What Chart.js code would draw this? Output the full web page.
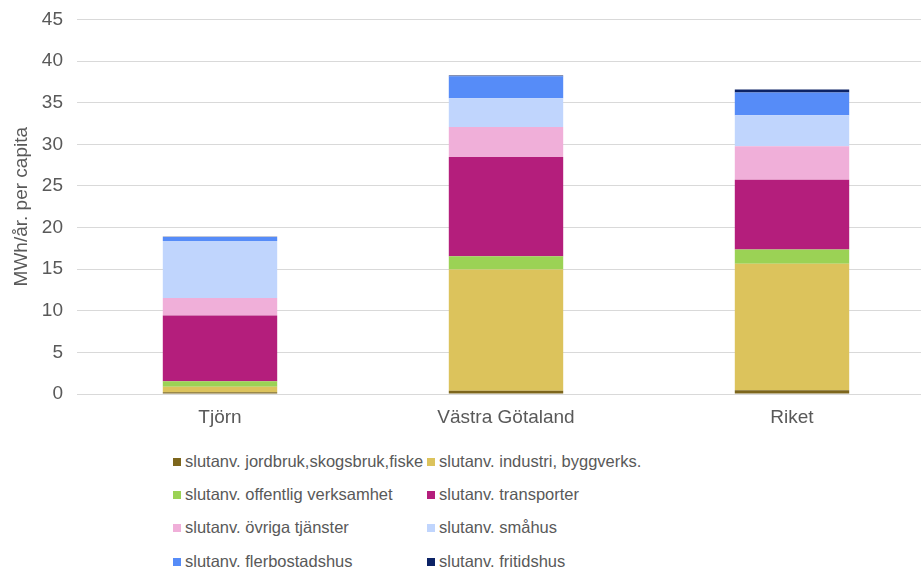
<!DOCTYPE html>
<html>
<head>
<meta charset="utf-8">
<script src="https://cdn.jsdelivr.net/npm/chart.js@4"></script>
<style>
  html, body { margin: 0; padding: 0; background: #fff; overflow: hidden; }
  #wrap { position: relative; width: 921px; height: 572px; overflow: hidden; }
  #chart { position: absolute; left: 0; top: -6px; }
  .lg { position: absolute; font-family: "Liberation Sans", Arial, sans-serif; font-size: 16.5px; color: #595959; white-space: nowrap; line-height: 20px; }
  .lg span.box { display: inline-block; width: 8px; height: 8px; margin-right: 4px; vertical-align: 1px; }
</style>
</head>
<body>
<div id="wrap">
  <canvas id="chart" width="935" height="446"></canvas>
  <div id="legend"></div>
</div>
<script>
// categories and series (MWh/år per capita)
var categories = ['Tjörn', 'Västra Götaland', 'Riket'];
var yTicks = [0, 5, 10, 15, 20, 25, 30, 35, 40, 45];

var jordbruk = [0.2, 0.4, 0.45];
var industri = [0.67, 14.56, 15.2];
var offentlig = [0.65, 1.6, 1.72];
var transporter = [7.92, 11.92, 8.36];
var ovriga = [2.1, 3.6, 4.04];
var smahus = [6.84, 3.44, 3.72];
var flerbostad = [0.48, 2.64, 2.72];
var fritidshus = [0.03, 0.1, 0.36];

var seriesNames = [
  'slutanv. jordbruk,skogsbruk,fiske',
  'slutanv. industri, byggverks.',
  'slutanv. offentlig verksamhet',
  'slutanv. transporter',
  'slutanv. övriga tjänster',
  'slutanv. småhus',
  'slutanv. flerbostadshus',
  'slutanv. fritidshus'
];
var seriesData = [jordbruk, industri, offentlig, transporter, ovriga, smahus, flerbostad, fritidshus];
var seriesColors = ['#7d661c', '#dcc35c', '#9bd255', '#b41e7c', '#f0afd9', '#c0d5fd', '#568cf8', '#0c2366'];

var FONT = '"Liberation Sans", Arial, sans-serif';
var TEXT = '#595959';

var datasets = seriesData.map(function (d, i) {
  return {
    label: seriesNames[i],
    data: d,
    backgroundColor: seriesColors[i],
    borderWidth: 0,
    categoryPercentage: 1,
    barPercentage: 0.4
  };
});

new Chart(document.getElementById('chart'), {
  type: 'bar',
  data: { labels: categories, datasets: datasets },
  options: {
    responsive: false,
    animation: false,
    layout: { padding: 0 },
    plugins: {
      legend: { display: false },
      tooltip: { enabled: false }
    },
    scales: {
      x: {
        stacked: true,
        grid: { display: false, drawTicks: false },
        border: { display: false },
        ticks: { color: TEXT, font: { family: FONT, size: 19 }, padding: 12 },
        afterFit: function (s) { s.height = 46; }
      },
      y: {
        stacked: true,
        min: 0,
        max: 45,
        afterBuildTicks: function (s) {
          s.ticks = yTicks.map(function (v) { return { value: v }; });
        },
        grid: { color: '#d9d9d9', lineWidth: 1, drawTicks: false },
        border: { display: false },
        ticks: { color: TEXT, font: { family: FONT, size: 19 }, padding: 14 },
        title: {
          display: true,
          text: 'MWh/år. per capita',
          color: TEXT,
          font: { family: FONT, size: 19 },
          padding: { top: 10, bottom: 0 }
        },
        afterFit: function (s) { s.width = 77; }
      }
    }
  }
});

// legend, two columns
var legend = document.getElementById('legend');
var colX = [173, 427];
var rowY = [451, 484, 517, 551];
seriesNames.forEach(function (name, i) {
  var el = document.createElement('div');
  el.className = 'lg';
  el.style.left = colX[i % 2] + 'px';
  el.style.top = rowY[Math.floor(i / 2)] + 'px';
  el.innerHTML = '<span class="box" style="background:' + seriesColors[i] + '"></span>' + name;
  legend.appendChild(el);
});
</script>
</body>
</html>
